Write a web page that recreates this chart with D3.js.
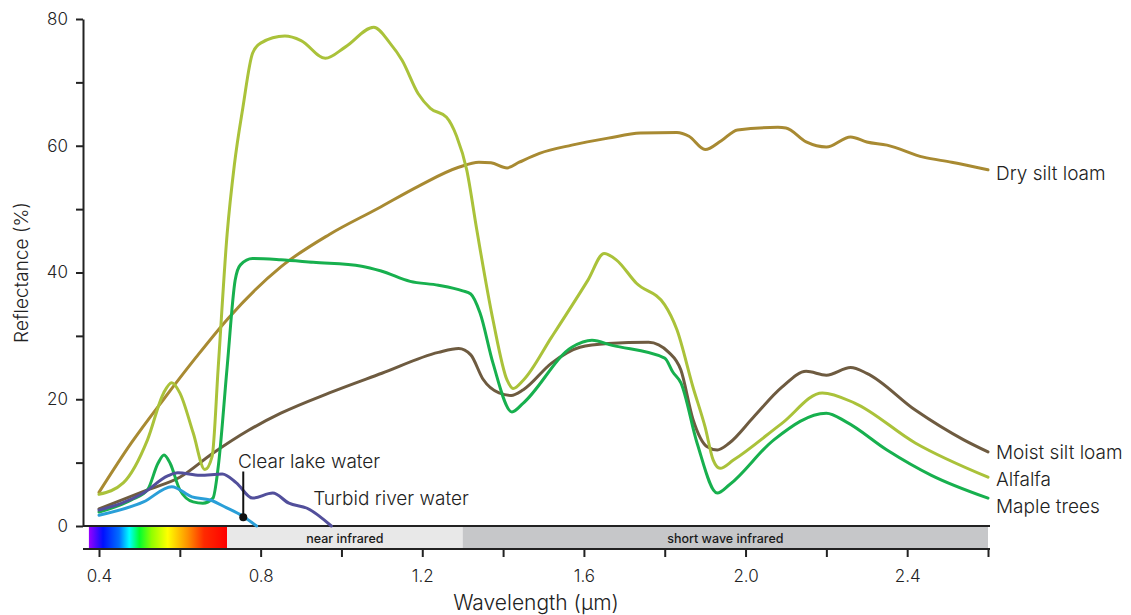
<!DOCTYPE html>
<html>
<head>
<meta charset="utf-8">
<script src="https://cdn.jsdelivr.net/npm/d3@7"></script>
<style>
  body { margin: 0; background: #fff; }
  svg { display: block; font-family: Inter, 'Noto Sans', sans-serif; }
</style>
</head>
<body>
<svg id="chart" width="1131" height="615"></svg>
<script>
// [wavelength (µm), reflectance (%)]
const drySiltLoam = [[0.40, 5.3], [0.48, 13.1], [0.56, 20.0], [0.64, 26.6], [0.72, 32.8], [0.85, 40.9], [0.97, 46.0], [1.09, 50.1], [1.19, 53.6], [1.29, 56.6], [1.34, 57.4], [1.37, 57.3], [1.41, 56.5], [1.44, 57.4], [1.49, 58.8], [1.57, 60.1], [1.66, 61.2], [1.74, 62.0], [1.83, 62.1], [1.86, 61.5], [1.90, 59.4], [1.94, 60.8], [1.98, 62.5], [2.08, 62.9], [2.10, 62.8], [2.15, 60.6], [2.20, 59.8], [2.26, 61.4], [2.30, 60.6], [2.35, 60.1], [2.44, 58.2], [2.51, 57.4], [2.60, 56.2]];
const moistSiltLoam = [[0.40, 2.7], [0.52, 5.7], [0.60, 7.7], [0.68, 11.4], [0.77, 15.1], [0.85, 17.8], [0.97, 21.0], [1.10, 24.1], [1.24, 27.4], [1.29, 28.0], [1.32, 27.0], [1.35, 23.2], [1.39, 21.0], [1.42, 20.6], [1.45, 21.5], [1.52, 25.7], [1.59, 28.2], [1.66, 28.8], [1.76, 29.0], [1.81, 27.4], [1.84, 24.6], [1.87, 16.8], [1.905, 12.5], [1.93, 12.0], [1.96, 13.1], [2.02, 17.2], [2.09, 21.9], [2.15, 24.4], [2.20, 23.8], [2.26, 25.0], [2.30, 24.1], [2.42, 18.3], [2.54, 13.6], [2.60, 11.7]];
const alfalfa = [[0.40, 5.0], [0.46, 6.8], [0.52, 13.6], [0.56, 21.0], [0.58, 22.6], [0.60, 21.0], [0.633, 14.7], [0.662, 8.9], [0.68, 11.0], [0.695, 25.0], [0.717, 46.0], [0.735, 57.0], [0.756, 66.0], [0.78, 74.6], [0.80, 76.2], [0.86, 77.3], [0.90, 76.6], [0.96, 73.8], [1.01, 75.6], [1.08, 78.7], [1.12, 76.2], [1.15, 73.5], [1.19, 68.2], [1.22, 65.9], [1.26, 64.5], [1.285, 61.5], [1.31, 56.2], [1.335, 46.7], [1.375, 32.5], [1.41, 23.0], [1.425, 21.7], [1.45, 23.0], [1.52, 29.8], [1.61, 38.8], [1.65, 43.0], [1.68, 42.0], [1.73, 38.3], [1.80, 34.9], [1.83, 31.0], [1.87, 21.9], [1.90, 15.6], [1.92, 10.4], [1.937, 9.1], [1.97, 10.4], [2.09, 16.2], [2.19, 21.0], [2.27, 19.4], [2.42, 13.1], [2.60, 7.7]];
const mapleTrees = [[0.40, 2.2], [0.48, 4.1], [0.52, 5.7], [0.546, 9.9], [0.561, 11.2], [0.576, 9.9], [0.60, 5.7], [0.633, 3.8], [0.657, 3.6], [0.682, 4.4], [0.695, 9.3], [0.717, 25.0], [0.737, 38.8], [0.75, 41.2], [0.78, 42.2], [0.85, 42.0], [0.93, 41.6], [1.05, 41.0], [1.10, 40.2], [1.17, 38.6], [1.24, 38.0], [1.30, 37.1], [1.32, 36.6], [1.343, 33.6], [1.375, 25.7], [1.422, 18.0], [1.45, 19.4], [1.57, 28.2], [1.62, 29.3], [1.67, 28.5], [1.80, 26.5], [1.82, 24.3], [1.84, 22.6], [1.88, 13.1], [1.93, 5.2], [1.96, 6.5], [2.07, 13.6], [2.20, 17.8], [2.25, 16.4], [2.35, 12.0], [2.46, 8.0], [2.60, 4.4]];
const turbidRiverWater = [[0.40, 2.5], [0.51, 5.2], [0.57, 7.9], [0.595, 8.4], [0.65, 8.0], [0.705, 8.2], [0.74, 6.8], [0.78, 4.4], [0.83, 5.2], [0.87, 3.6], [0.915, 2.8], [0.975, 0]];
const clearLakeWater = [[0.40, 1.7], [0.51, 3.8], [0.58, 6.2], [0.63, 4.6], [0.675, 4.1], [0.715, 2.9], [0.757, 1.5], [0.79, 0]];

const seriesNames = ['Dry silt loam', 'Moist silt loam', 'Alfalfa', 'Maple trees', 'Clear lake water', 'Turbid river water'];
const seriesData = [drySiltLoam, moistSiltLoam, alfalfa, mapleTrees, clearLakeWater, turbidRiverWater];
const seriesColors = ['#a88a32', '#6e5b40', '#aac23a', '#17b04e', '#2a9fd8', '#524f9b'];

const xTicks = [0.4, 0.6, 0.8, 1.0, 1.2, 1.4, 1.6, 1.8, 2.0, 2.2, 2.4, 2.6];
const xTickLabels = ['0.4', '', '0.8', '', '1.2', '', '1.6', '', '2.0', '', '2.4', ''];
const yTicks = [0, 10, 20, 30, 40, 50, 60, 70, 80];
const yTickLabels = ['0', '', '20', '', '40', '', '60', '', '80'];

// spectral regions drawn under the zero line
const bandNames = ['', 'near infrared', 'short wave infrared'];
const bandStart = [0.375, 0.717, 1.3];
const bandEnd = [0.717, 1.3, 2.6];
const bandFills = ['url(#visible)', '#e8e8e8', '#c6c7c9'];
const spectrumWl = [0.375, 0.41, 0.45, 0.475, 0.5, 0.53, 0.57, 0.62, 0.66, 0.717];
const spectrumColors = ['#9a00ff', '#0010ff', '#0070ff', '#00ffff', '#00ff30', '#90ff00', '#ffff00', '#ff9000', '#ff2a00', '#ff0000'];

const axisX = 83;
const bandTop = 527;
const bandBottom = 549;

const svg = d3.select('#chart');
const x = d3.scaleLinear().domain([0.4, 2.6]).range([99, 988]);
const y = d3.scaleLinear().domain([0, 80]).range([526, 19]);

const defs = svg.append('defs');
const grad = defs.append('linearGradient')
  .attr('id', 'visible')
  .attr('gradientUnits', 'userSpaceOnUse')
  .attr('x1', x(spectrumWl[0]))
  .attr('x2', x(spectrumWl[spectrumWl.length - 1]))
  .attr('y1', 0)
  .attr('y2', 0);
const span = x(spectrumWl[spectrumWl.length - 1]) - x(spectrumWl[0]);
grad.selectAll('stop')
  .data(spectrumWl)
  .join('stop')
  .attr('offset', (d) => (x(d) - x(spectrumWl[0])) / span)
  .attr('stop-color', (d, i) => spectrumColors[i]);

// bands
const bands = svg.append('g').attr('class', 'bands');
bands.selectAll('rect')
  .data(bandStart)
  .join('rect')
  .attr('x', (d) => x(d))
  .attr('y', bandTop)
  .attr('width', (d, i) => x(bandEnd[i]) - x(d))
  .attr('height', bandBottom - bandTop)
  .attr('fill', (d, i) => bandFills[i]);
bands.selectAll('text')
  .data(bandStart)
  .join('text')
  .attr('x', (d, i) => (x(d) + x(bandEnd[i])) / 2)
  .attr('y', (bandTop + bandBottom) / 2)
  .attr('text-anchor', 'middle')
  .attr('dominant-baseline', 'central')
  .attr('font-size', 12.5)
  .attr('font-weight', 500)
  .attr('fill', '#1a1a1a')
  .text((d, i) => bandNames[i]);

// zero line and bottom axis line
svg.append('line')
  .attr('x1', axisX).attr('x2', x(2.6) + 2)
  .attr('y1', y(0)).attr('y2', y(0))
  .attr('stroke', '#222').attr('stroke-width', 2);
svg.append('line')
  .attr('x1', axisX).attr('x2', x(2.6) + 2)
  .attr('y1', bandBottom).attr('y2', bandBottom)
  .attr('stroke', '#222').attr('stroke-width', 2);

// x axis
const xAxis = svg.append('g')
  .attr('transform', `translate(0,${bandBottom})`)
  .call(d3.axisBottom(x).tickValues(xTicks).tickSize(8).tickSizeOuter(0)
    .tickFormat((d, i) => xTickLabels[i]));
xAxis.select('.domain').remove();
xAxis.selectAll('.tick line').attr('stroke', '#222').attr('stroke-width', 2);
xAxis.selectAll('.tick text')
  .attr('font-family', 'Inter, sans-serif')
  .attr('font-size', 17)
  .attr('font-weight', 300)
  .attr('fill', '#222')
  .attr('dy', '1.3em');

// y axis
const yAxis = svg.append('g')
  .attr('transform', `translate(${axisX},0)`)
  .call(d3.axisLeft(y).tickValues(yTicks).tickSize(7).tickSizeOuter(0)
    .tickFormat((d, i) => yTickLabels[i]));
yAxis.select('.domain').attr('stroke', '#222').attr('stroke-width', 2);
yAxis.selectAll('.tick line').attr('stroke', '#222').attr('stroke-width', 2);
yAxis.selectAll('.tick text')
  .attr('font-family', 'Inter, sans-serif')
  .attr('font-size', 17)
  .attr('font-weight', 300)
  .attr('fill', '#222')
  .attr('x', -15);

// axis titles
svg.append('text')
  .attr('transform', `translate(28,${(y(0) + y(80)) / 2}) rotate(-90)`)
  .attr('text-anchor', 'middle')
  .attr('font-size', 19)
  .attr('font-weight', 300)
  .attr('fill', '#222')
  .text('Reflectance (%)');
svg.append('text')
  .attr('x', 536)
  .attr('y', 610)
  .attr('text-anchor', 'middle')
  .attr('font-size', 21)
  .attr('font-weight', 300)
  .attr('fill', '#222')
  .text('Wavelength (μm)');

// curves
const line = d3.line()
  .x((d) => x(d[0]))
  .y((d) => y(d[1]))
  .curve(d3.curveMonotoneX);
svg.append('g')
  .attr('class', 'lines')
  .attr('fill', 'none')
  .attr('stroke-width', 3)
  .attr('stroke-linejoin', 'round')
  .attr('stroke-linecap', 'round')
  .selectAll('path')
  .data(seriesData)
  .join('path')
  .attr('stroke', (d, i) => seriesColors[i])
  .attr('d', line);

// end labels for the four long series
const labelShift = [4, 1, 2, 8];
svg.append('g')
  .selectAll('text')
  .data(seriesData.slice(0, 4))
  .join('text')
  .attr('x', x(2.6) + 8)
  .attr('y', (d, i) => y(d[d.length - 1][1]) + labelShift[i])
  .attr('dominant-baseline', 'central')
  .attr('font-size', 19)
  .attr('font-weight', 300)
  .attr('fill', '#222')
  .text((d, i) => seriesNames[i]);

// water labels
const clearMarker = [0.757, 1.4];
svg.append('line')
  .attr('x1', x(clearMarker[0])).attr('x2', x(clearMarker[0]))
  .attr('y1', y(clearMarker[1])).attr('y2', y(8.6))
  .attr('stroke', '#111').attr('stroke-width', 2);
svg.append('circle')
  .attr('cx', x(clearMarker[0]))
  .attr('cy', y(clearMarker[1]))
  .attr('r', 4)
  .attr('fill', '#111');
svg.append('text')
  .attr('x', x(0.744))
  .attr('y', y(9.1))
  .attr('font-size', 19)
  .attr('font-weight', 300)
  .attr('fill', '#222')
  .text(seriesNames[4]);
svg.append('text')
  .attr('x', x(0.93))
  .attr('y', y(3.3))
  .attr('font-size', 19)
  .attr('font-weight', 300)
  .attr('fill', '#222')
  .text(seriesNames[5]);
</script>
</body>
</html>
